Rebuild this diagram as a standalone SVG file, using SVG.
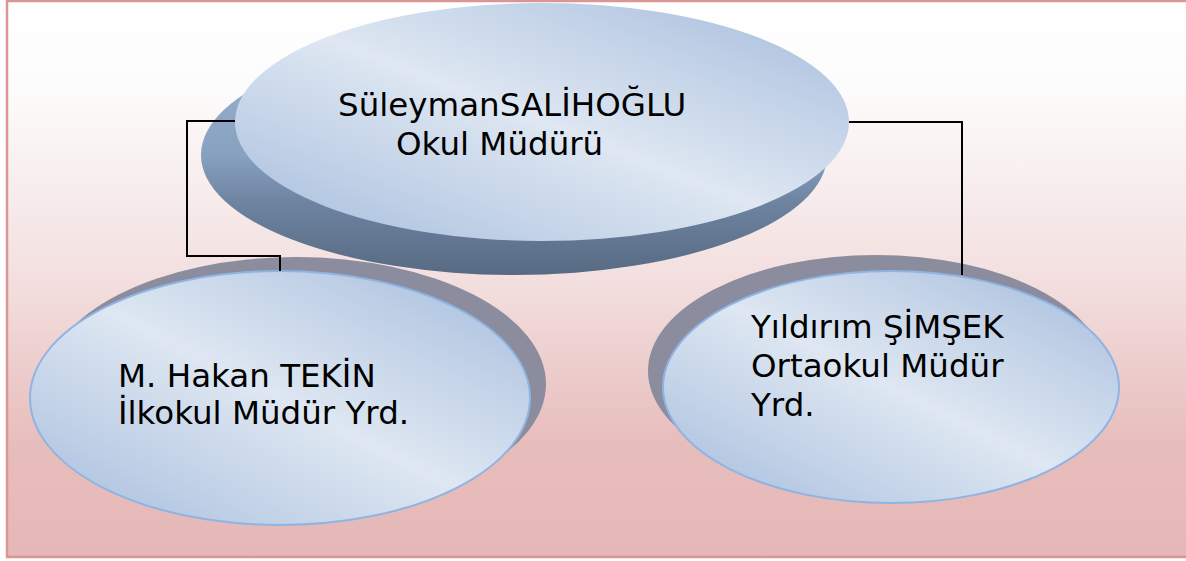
<svg xmlns="http://www.w3.org/2000/svg" width="1186" height="561" viewBox="0 0 1186 561">
  <defs>
    <linearGradient id="bg" x1="0" y1="0" x2="0" y2="1">
      <stop offset="0" stop-color="#ffffff"/>
      <stop offset="0.15" stop-color="#fdfcfc"/>
      <stop offset="0.5" stop-color="#f3dfdf"/>
      <stop offset="0.8" stop-color="#e7bdbc"/>
      <stop offset="1" stop-color="#e5b8b7"/>
    </linearGradient>
    <linearGradient id="bubble" x1="1" y1="0" x2="0" y2="1">
      <stop offset="0" stop-color="#a5bcdc"/>
      <stop offset="0.5" stop-color="#dee7f2"/>
      <stop offset="1" stop-color="#a5bcdc"/>
    </linearGradient>
    <linearGradient id="topShadow" gradientUnits="userSpaceOnUse" x1="0" y1="35" x2="0" y2="275">
      <stop offset="0" stop-color="#9cb4d0"/>
      <stop offset="0.5" stop-color="#87a1c0"/>
      <stop offset="0.71" stop-color="#6c829f"/>
      <stop offset="1" stop-color="#586a83"/>
    </linearGradient>
    <style>
      .main { fill: url(#bubble); }
      .stroked { stroke: #8eb4e3; stroke-width: 2; }
      .shadow { fill: #8b8c9d; }
      .lbl { font-family: "DejaVu Sans", Verdana, sans-serif; font-size: 32.5px; fill: #000; }
      .conn { fill: none; stroke: #000; stroke-width: 2; }
    </style>
  </defs>

  <rect x="0" y="0" width="1186" height="561" fill="#ffffff"/>
  <rect x="7" y="1" width="1185" height="556" fill="url(#bg)" stroke="#d99694" stroke-width="2.5"/>

  <g id="node-top">
    <ellipse cx="514" cy="155" rx="313" ry="120" fill="url(#topShadow)"/>
    <ellipse class="main" cx="542" cy="122" rx="307" ry="119"/>
    <text class="lbl" x="338" y="116">SüleymanSALİHOĞLU</text>
    <text class="lbl" x="396" y="155">Okul Müdürü</text>
  </g>

  <g id="node-left">
    <ellipse class="shadow" cx="296" cy="384" rx="250" ry="127"/>
    <ellipse class="main stroked" cx="280" cy="398" rx="250" ry="127"/>
    <text class="lbl" x="118" y="387">M. Hakan TEKİN</text>
    <text class="lbl" x="118" y="424">İlkokul Müdür Yrd.</text>
  </g>

  <g id="node-right">
    <ellipse class="shadow" cx="876" cy="371" rx="228" ry="116"/>
    <ellipse class="main stroked" cx="891" cy="387" rx="228" ry="116"/>
    <text class="lbl" x="751" y="338">Yıldırım ŞİMŞEK</text>
    <text class="lbl" x="751" y="377">Ortaokul Müdür</text>
    <text class="lbl" x="751" y="416">Yrd.</text>
  </g>

  <g id="connectors">
    <polyline class="conn" points="235,121 187,121 187,256 280,256 280,271"/>
    <polyline class="conn" points="849,122 962,122 962,275"/>
  </g>
</svg>
